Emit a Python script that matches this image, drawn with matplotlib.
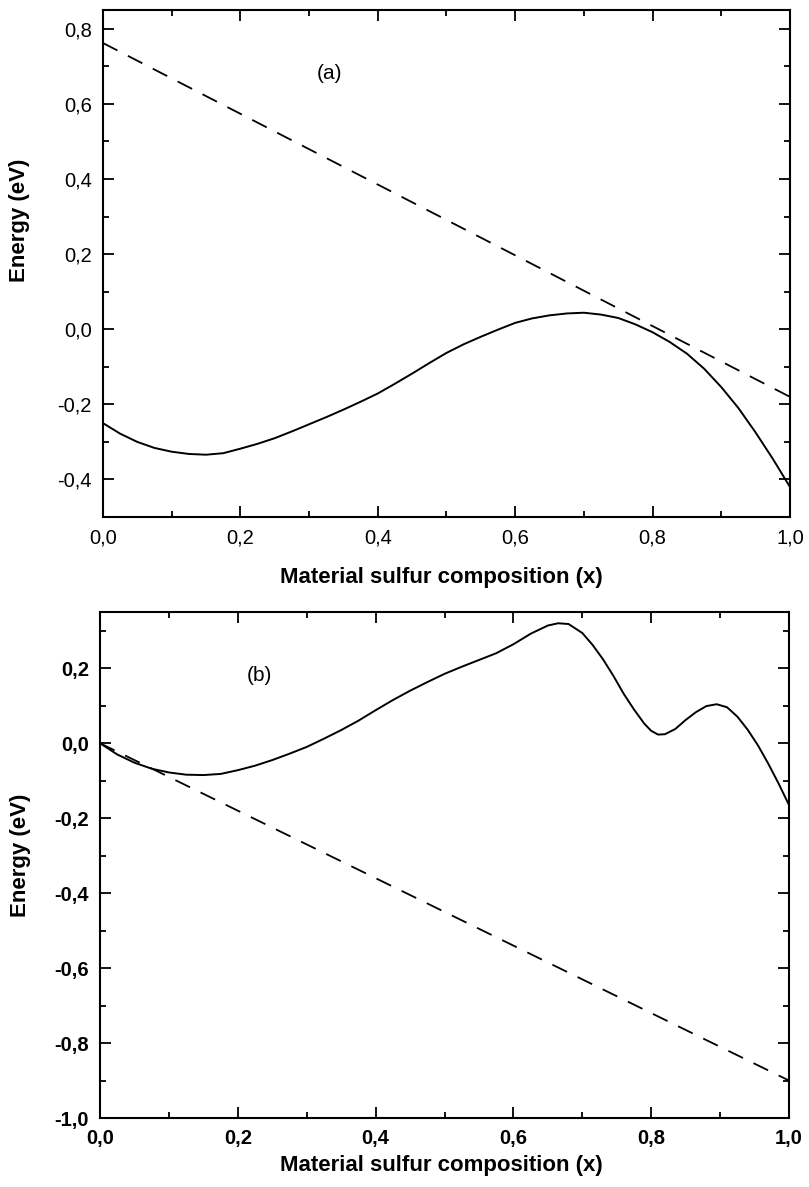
import matplotlib
matplotlib.use("Agg")
import matplotlib.pyplot as plt
from matplotlib.ticker import MultipleLocator, FuncFormatter

plt.rcParams['font.family'] = ['Liberation Sans', 'DejaVu Sans']

# panel (a)
xa = [0, 0.025, 0.05, 0.075, 0.1, 0.125, 0.15, 0.175, 0.2, 0.225, 0.25, 0.275, 0.3,
      0.325, 0.35, 0.375, 0.4, 0.425, 0.45, 0.475, 0.5, 0.525, 0.55, 0.575, 0.6,
      0.625, 0.65, 0.675, 0.7, 0.725, 0.75, 0.775, 0.8, 0.825, 0.85, 0.875, 0.9,
      0.925, 0.95, 0.975, 1.0]
ya = [-0.25, -0.278, -0.300, -0.316, -0.326, -0.332, -0.334, -0.330, -0.318, -0.305,
      -0.290, -0.272, -0.253, -0.234, -0.214, -0.193, -0.171, -0.145, -0.118, -0.090,
      -0.063, -0.040, -0.020, -0.001, 0.017, 0.029, 0.037, 0.042, 0.044, 0.039,
      0.030, 0.013, -0.008, -0.034, -0.065, -0.105, -0.154, -0.210, -0.275, -0.345,
      -0.42]
xa_lin = [0.0, 1.0]
ya_lin = [0.762, -0.18]

# panel (b)
xb = [0, 0.025, 0.05, 0.075, 0.1, 0.125, 0.15, 0.175, 0.2, 0.225, 0.25, 0.275, 0.3,
      0.325, 0.35, 0.375, 0.4, 0.425, 0.45, 0.475, 0.5, 0.525, 0.55, 0.575, 0.6,
      0.625, 0.65, 0.665, 0.68, 0.7, 0.715, 0.73, 0.745, 0.76, 0.775, 0.79, 0.8,
      0.81, 0.82, 0.835, 0.85, 0.865, 0.88, 0.895, 0.91, 0.925, 0.94, 0.955, 0.97,
      0.985, 1.0]
yb = [0.0, -0.03, -0.052, -0.068, -0.078, -0.084, -0.085, -0.082, -0.072, -0.060,
      -0.045, -0.028, -0.010, 0.012, 0.035, 0.060, 0.088, 0.115, 0.140, 0.163,
      0.185, 0.204, 0.222, 0.240, 0.264, 0.292, 0.314, 0.320, 0.318, 0.294, 0.262,
      0.224, 0.180, 0.132, 0.090, 0.052, 0.033, 0.023, 0.024, 0.038, 0.062, 0.083,
      0.099, 0.104, 0.096, 0.071, 0.036, -0.006, -0.055, -0.108, -0.165]
xb_lin = [0.0, 1.0]
yb_lin = [0.0, -0.90]

comma = FuncFormatter(lambda v, p: f"{v:.1f}".replace('.', ','))


def style_axes(ax, bold_ticks):
    ax.xaxis.set_major_locator(MultipleLocator(0.2))
    ax.xaxis.set_minor_locator(MultipleLocator(0.1))
    ax.yaxis.set_major_locator(MultipleLocator(0.2))
    ax.yaxis.set_minor_locator(MultipleLocator(0.1))
    ax.xaxis.set_major_formatter(comma)
    ax.yaxis.set_major_formatter(comma)
    ax.tick_params(which='both', direction='in', top=True, right=True, width=1.3)
    ax.tick_params(which='major', length=8, pad=8, labelsize=14.5)
    ax.tick_params(which='minor', length=4.5)
    for s in ax.spines.values():
        s.set_linewidth(1.5)
    w = 'bold' if bold_ticks else 'normal'
    for lab in ax.get_xticklabels() + ax.get_yticklabels():
        lab.set_fontweight(w)


fig = plt.figure(figsize=(8.09, 11.87), dpi=100)

ax1 = fig.add_axes([0.1273, 0.5644, 0.8492, 0.4272])
ax1.plot(xa, ya, color='black', lw=1.4)
ax1.plot(xa_lin, ya_lin, color='black', lw=1.3, dashes=(9, 6.5))
ax1.set_xlim(0, 1)
ax1.set_ylim(-0.5, 0.85)
style_axes(ax1, False)
ax1.text(0.33, 0.68, '(a)', fontsize=15, ha='center', va='center')
ax1.set_xlabel('Material sulfur composition (x)', fontsize=16, fontweight='bold', va='center')
ax1.xaxis.set_label_coords(0.493, -0.120)
ax1.set_ylabel('Energy (eV)', fontsize=16, fontweight='bold', va='center')
ax1.yaxis.set_label_coords(-0.121, 0.586)

ax2 = fig.add_axes([0.1236, 0.0581, 0.8517, 0.4263])
ax2.plot(xb, yb, color='black', lw=1.4)
ax2.plot(xb_lin, yb_lin, color='black', lw=1.3, dashes=(9, 6.5))
ax2.set_xlim(0, 1)
ax2.set_ylim(-1.0, 0.35)
style_axes(ax2, True)
ax2.text(0.232, 0.18, '(b)', fontsize=15, ha='center', va='center')
ax2.set_xlabel('Material sulfur composition (x)', fontsize=16, fontweight='bold', va='center')
ax2.xaxis.set_label_coords(0.495, -0.093)
ax2.set_ylabel('Energy (eV)', fontsize=16, fontweight='bold', va='center')
ax2.yaxis.set_label_coords(-0.116, 0.52)

fig.savefig('out.png', dpi=100)
